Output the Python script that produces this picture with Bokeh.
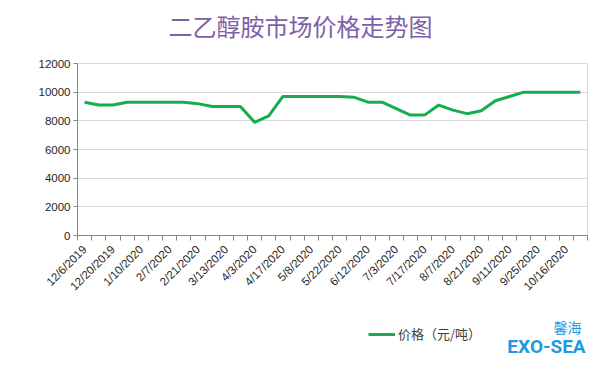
import numpy as np
from bokeh.plotting import figure
from bokeh.layouts import column
from bokeh.models import (Range1d, FixedTicker, CustomJSTickFormatter, Legend, LegendItem, Label)
from bokeh.embed import file_html
from bokeh.resources import INLINE

title_text = "二乙醇胺市场价格走势图"
series_name = "价格（元/吨）"
logo_cn = "馨海"
logo_en = "EXO-SEA"
dates = ["12/6/2019", "12/13/2019", "12/20/2019", "1/3/2020", "1/10/2020", "1/17/2020",
         "2/7/2020", "2/14/2020", "2/21/2020", "3/6/2020", "3/13/2020", "3/20/2020",
         "4/3/2020", "4/10/2020", "4/17/2020", "4/24/2020", "5/8/2020", "5/15/2020",
         "5/22/2020", "5/29/2020", "6/12/2020", "6/19/2020", "7/3/2020", "7/10/2020",
         "7/17/2020", "7/24/2020", "8/7/2020", "8/14/2020", "8/21/2020", "8/28/2020",
         "9/11/2020", "9/18/2020", "9/25/2020", "10/9/2020", "10/16/2020", "10/23/2020"]
prices = [9300, 9100, 9100, 9300, 9300, 9300, 9300, 9300, 9200, 9000, 9000, 9000,
          7900, 8350, 9700, 9700, 9700, 9700, 9700, 9650, 9300, 9300, 8850, 8400,
          8400, 9100, 8750, 8500, 8700, 9400, 9700, 10000, 10000, 10000, 10000, 10000]
y_ticks = [0, 2000, 4000, 6000, 8000, 10000, 12000]

LINE_COLOR = "#16ad4e"
n = len(dates)
xs = np.arange(n) + 0.5
LEFT, RIGHT, FW = 77, 21, 510


def blank(h):
    f = figure(width=608, height=h, frame_width=FW, frame_height=h,
               min_border_left=LEFT, min_border_right=RIGHT, min_border_top=0, min_border_bottom=0,
               output_backend="svg", toolbar_location=None,
               x_axis_location=None, y_axis_location=None,
               x_range=Range1d(0, n), y_range=Range1d(0, 1))
    f.outline_line_color = None
    f.xgrid.visible = False
    f.ygrid.visible = False
    f.border_fill_color = "white"
    f.background_fill_color = "white"
    return f


# ---- title strip
top = blank(48)
top.add_layout(Label(x=300 - LEFT, y=23, x_units="screen", y_units="screen", text=title_text,
                     text_font="Noto Sans CJK SC", text_font_size="24px",
                     text_color="#7e60a9", text_align="center", text_baseline="middle"))

# ---- main chart
p = figure(width=608, height=267, frame_width=FW, frame_height=172,
           min_border_left=LEFT, min_border_right=RIGHT, min_border_top=15, min_border_bottom=80,
           output_backend="svg", toolbar_location=None,
           x_range=Range1d(0, n), y_range=Range1d(0, 12000))
p.outline_line_color = "#d9d9d9"
p.background_fill_color = "white"
p.border_fill_color = "white"

p.line(xs, prices, line_color=LINE_COLOR, line_width=3)

xa = p.xaxis[0]
xa.ticker = FixedTicker(ticks=list(xs[::2]), minor_ticks=list(range(n + 1)))
xa.formatter = CustomJSTickFormatter(args=dict(labels=dates),
                                     code="return labels[Math.round(tick - 0.5)] || '';")
xa.major_label_orientation = np.pi / 4
xa.major_tick_out = 0
xa.major_tick_in = 0
xa.minor_tick_out = 5
xa.minor_tick_in = 0
xa.minor_tick_line_color = "#868686"
xa.axis_line_color = "#868686"
xa.major_label_text_font = "Liberation Sans"
xa.major_label_text_font_size = "11.5px"
xa.major_label_text_color = "#262626"
xa.major_label_standoff = 7

ya = p.yaxis[0]
ya.ticker = FixedTicker(ticks=y_ticks)
ya.major_tick_out = 4
ya.major_tick_in = 0
ya.minor_tick_out = 0
ya.minor_tick_in = 0
ya.major_tick_line_color = "#868686"
ya.axis_line_color = "#868686"
ya.major_label_text_font = "Liberation Sans"
ya.major_label_text_font_size = "11.5px"
ya.major_label_text_color = "#262626"
ya.major_label_standoff = 3

p.xgrid.visible = False
p.ygrid.grid_line_color = "#d9d9d9"
p.ygrid.ticker = FixedTicker(ticks=y_ticks)

# ---- legend + logo strip (the series is drawn here only as the legend key; its
# values lie outside this strip's range, so only the key shows)
bot = blank(53)
key = bot.line(xs, prices, line_color=LINE_COLOR, line_width=3)
legend = Legend(items=[LegendItem(label=series_name, renderers=[key])],
                location=(368 - LEFT, 25), orientation="horizontal",
                glyph_width=27, glyph_height=14, label_standoff=3, padding=0, margin=0,
                border_line_color=None, background_fill_alpha=0,
                label_text_font="Noto Sans CJK SC", label_text_font_size="13px",
                label_text_color="#404040")
bot.add_layout(legend, "center")
bot.add_layout(Label(x=567 - LEFT, y=42, x_units="screen", y_units="screen", text=logo_cn,
                     text_font="Noto Sans CJK SC", text_font_size="14px",
                     text_color="#1e9be0", text_align="center", text_baseline="middle"))
bot.add_layout(Label(x=546 - LEFT, y=22, x_units="screen", y_units="screen", text=logo_en,
                     text_font="Roboto", text_font_size="19px", text_font_style="bold",
                     text_color="#1e9be0", text_align="center", text_baseline="middle"))

layout = column(top, p, bot, spacing=0)
open("out.html", "w").write(file_html(layout, INLINE))
